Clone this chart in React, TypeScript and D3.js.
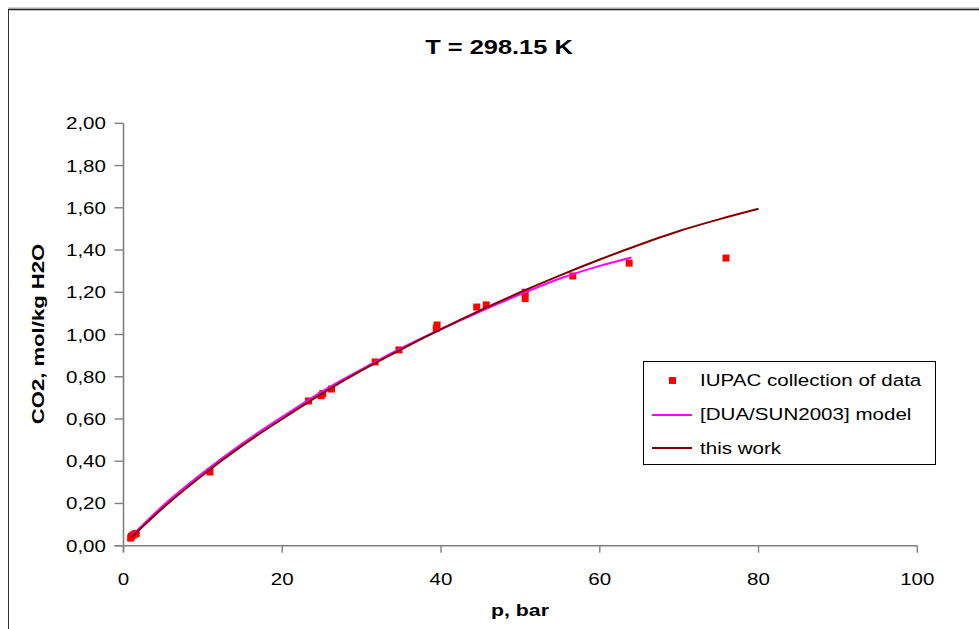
import React from "react";
import * as d3 from "d3";

const iupacP = [0.9, 1.0, 1.2, 1.4, 1.6, 10.9, 23.3, 24.9, 25.1, 26.2, 31.7, 34.7, 39.4, 39.5, 44.5, 45.7, 50.6, 50.6, 56.6, 63.7, 75.9];
const iupacV = [0.036, 0.045, 0.05, 0.055, 0.058, 0.349, 0.685, 0.71, 0.72, 0.742, 0.87, 0.927, 1.03, 1.045, 1.13, 1.14, 1.17, 1.2, 1.277, 1.338, 1.362];

const duaP = [1, 5, 10, 15, 20, 25, 30, 35, 40, 45, 50, 55, 60, 64];
const duaV = [0.045, 0.19, 0.345, 0.485, 0.61, 0.73, 0.835, 0.935, 1.025, 1.11, 1.19, 1.265, 1.325, 1.365];

const workP = [1, 5, 10, 15, 20, 25, 30, 35, 40, 45, 50, 55, 60, 65, 70, 75, 80];
const workV = [0.04, 0.18, 0.335, 0.475, 0.6, 0.72, 0.83, 0.93, 1.025, 1.115, 1.2, 1.28, 1.355, 1.425, 1.49, 1.545, 1.595];

const xTicks = [0, 20, 40, 60, 80, 100];
const yTicks = [0, 0.2, 0.4, 0.6, 0.8, 1.0, 1.2, 1.4, 1.6, 1.8, 2.0];

const title = "T = 298.15 K";
const xLabel = "p, bar";
const yLabel = "CO2, mol/kg H2O";
const legendLabels = ["IUPAC collection of data", "[DUA/SUN2003] model", "this work"];

const fmt = d3.formatLocale({ decimal: ",", thousands: ".", grouping: [3], currency: ["", ""] }).format(".2f");

export default function App() {
  const x = d3.scaleLinear().domain([0, 100]).range([123.5, 917.3]);
  const y = d3.scaleLinear().domain([0, 2]).range([545.7, 123.3]);
  const line = d3
    .line<[number, number]>()
    .x((d) => x(d[0]))
    .y((d) => y(d[1]))
    .curve(d3.curveMonotoneX);
  const dua = duaP.map((p, i) => [p, duaV[i]] as [number, number]);
  const work = workP.map((p, i) => [p, workV[i]] as [number, number]);
  const font = "'Liberation Sans', Arial, sans-serif";
  const sx = 1.21;
  const axisColor = "#808080";
  const x0 = x(0);
  const yb = y(0);

  return (
    <svg width={979} height={629} style={{ position: "absolute", left: 0, top: 0, background: "#fff" }} fontFamily={font}>
      <rect x={0} y={0} width={979} height={629} fill="#fff" />
      {/* outer border */}
      <line x1={8} y1={8} x2={990} y2={8} stroke="#aaa" strokeWidth={1} />
      <line x1={8.5} y1={9.5} x2={990} y2={9.5} stroke="#222" strokeWidth={1.5} />
      <line x1={8.5} y1={9} x2={8.5} y2={640} stroke="#333" strokeWidth={1} />

      {/* title */}
      <g transform={`translate(499,54) scale(${sx},1)`}>
        <text textAnchor="middle" fontSize={21} fontWeight="bold" fill="#000">{title}</text>
      </g>

      {/* axes */}
      <line x1={x0} y1={y(2)} x2={x0} y2={yb + 6} stroke={axisColor} strokeWidth={1.6} />
      <line x1={x0 - 9} y1={yb} x2={x(100)} y2={yb} stroke={axisColor} strokeWidth={1.6} />
      {yTicks.map((t) => (
        <g key={"y" + t}>
          <line x1={x0 - 9} x2={x0} y1={y(t)} y2={y(t)} stroke={axisColor} strokeWidth={1.4} />
          <g transform={`translate(106,${y(t) + 6}) scale(${sx},1)`}>
            <text textAnchor="end" fontSize={17} fill="#000">{fmt(t)}</text>
          </g>
        </g>
      ))}
      {xTicks.map((t) => (
        <g key={"x" + t}>
          <line x1={x(t)} x2={x(t)} y1={yb} y2={yb + 7} stroke={axisColor} strokeWidth={1.4} />
          <g transform={`translate(${x(t)},585) scale(${sx},1)`}>
            <text textAnchor="middle" fontSize={17} fill="#000">{t}</text>
          </g>
        </g>
      ))}

      {/* axis labels */}
      <g transform={`translate(520,616) scale(1.25,1)`}>
        <text textAnchor="middle" fontSize={17} fontWeight="bold" fill="#000">{xLabel}</text>
      </g>
      <g transform={`translate(44,334) rotate(-90) scale(1.3,1)`}>
        <text textAnchor="middle" fontSize={17} fontWeight="bold" fill="#000">{yLabel}</text>
      </g>

      {/* data */}
      {iupacP.map((p, i) => (
        <rect key={"m" + i} x={x(p) - 3.5} y={y(iupacV[i]) - 3.5} width={7} height={7} fill="#ff0000" />
      ))}
      <path d={line(dua) || ""} fill="none" stroke="#ff00ff" strokeWidth={2} />
      <path d={line(work) || ""} fill="none" stroke="#800000" strokeWidth={2} />

      {/* legend */}
      <rect x={643.5} y={361.5} width={292} height={103} fill="#fff" stroke="#000" strokeWidth={1} />
      <rect x={669} y={377} width={7} height={7} fill="#ff0000" />
      <line x1={652} x2={692} y1={415} y2={415} stroke="#ff00ff" strokeWidth={2} />
      <line x1={652} x2={692} y1={448} y2={448} stroke="#800000" strokeWidth={2} />
      {legendLabels.map((l, i) => (
        <g key={l} transform={`translate(700,${386 + i * 34}) scale(${sx},1)`}>
          <text fontSize={17} fill="#000">{l}</text>
        </g>
      ))}
    </svg>
  );
}
